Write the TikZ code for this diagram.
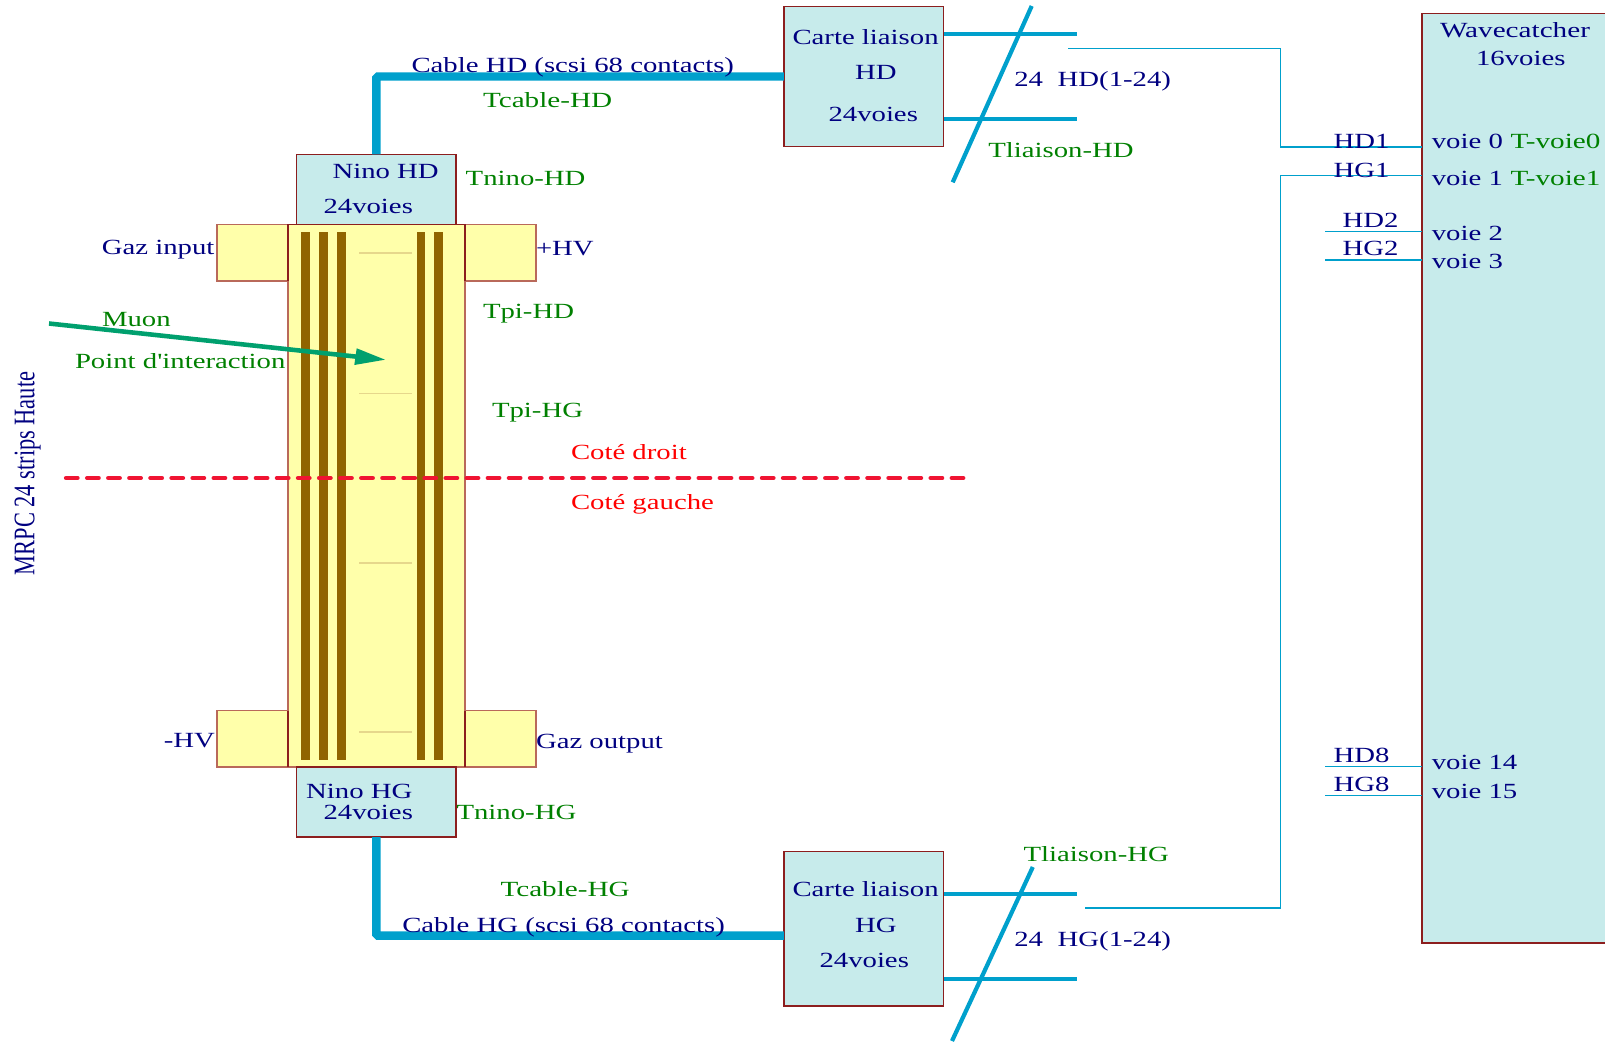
\documentclass[tikz,border=0pt]{standalone}
\usepackage{fontspec}
\setmainfont[FakeStretch=1.33,Ligatures=TeXOff]{Liberation Serif}
\newfontfamily\sidefont[FakeStretch=0.75]{Liberation Serif}
\newfontfamily\widefont[FakeStretch=1.35]{Liberation Serif}
\usepackage{tikz}
\definecolor{navytxt}{RGB}{0,0,128}
\definecolor{greentxt}{RGB}{0,128,0}
\definecolor{cablecol}{RGB}{0,160,204}
\definecolor{boxcol}{RGB}{199,235,235}
\definecolor{gazcol}{RGB}{255,255,170}
\definecolor{barcol}{RGB}{144,100,0}
\definecolor{bordcol}{RGB}{140,30,30}
\definecolor{bordgaz}{RGB}{185,105,90}
\definecolor{muoncol}{RGB}{0,160,110}
\definecolor{tircol}{RGB}{230,215,140}
\definecolor{plancol}{RGB}{240,20,50}
\tikzset{
  every node/.style={inner sep=0pt,outer sep=0pt,font=\fontsize{6.15}{7}\selectfont},
  bluetxt/.style={anchor=base west,text=navytxt},
  greenlbl/.style={anchor=base west,text=greentxt},
  greenwide/.style={anchor=base west,text=greentxt,font=\widefont\fontsize{6.15}{7}\selectfont},
  redlbl/.style={anchor=base west,text=red},
  bloc/.style={draw=bordcol,fill=boxcol,line width=.4pt},
  gaz/.style={draw=bordgaz,fill=gazcol,line width=.4pt},
  bar/.style={fill=barcol,minimum width=.088cm,minimum height=5.283cm},
  cable/.style={draw=cablecol,line width=2.4pt,rounded corners=.5pt},
  branch/.style={draw=cablecol,line width=1.2pt},
  fil/.style={draw=cablecol,line width=.35pt}
}
\begin{document}
\begin{tikzpicture}[x=1cm,y=-1cm]
\useasboundingbox (0,0) rectangle (16.05,10.42);
% MRPC
\node[gaz,minimum width=.71cm,minimum height=.567cm] (gazin) at (2.525,2.527) {};
\node[gaz,minimum width=.71cm,minimum height=.567cm] (hvplus) at (5.005,2.527) {};
\node[gaz,minimum width=.71cm,minimum height=.563cm] (hvmoins) at (2.525,7.389) {};
\node[gaz,minimum width=.71cm,minimum height=.563cm] (gazout) at (5.005,7.389) {};
\node[gaz,minimum width=1.77cm,minimum height=5.427cm] (chambre) at (3.765,4.957) {};
\draw[draw=bordcol,line width=.4pt] (chambre.north west) -- (chambre.north east);
\draw[draw=bordcol,line width=.4pt] (gazin.north east) -- (gazin.south east);
\draw[draw=bordcol,line width=.4pt] (hvplus.north west) -- (hvplus.south west);
\draw[draw=bordcol,line width=.4pt] (hvmoins.north east) -- (hvmoins.south east);
\draw[draw=bordcol,line width=.4pt] (gazout.north west) -- (gazout.south west);
\foreach \xb/\nb in {3.057/a,3.233/b,3.412/c,4.21/d,4.387/e}
  \node[bar] (bar\nb) at (\xb,4.962) {};
\foreach \yt/\nt in {2.53/a,3.937/b,5.63/c,7.32/d}{
  \coordinate (tira\nt) at (3.59,\yt);
  \coordinate (tirb\nt) at (4.123,\yt);
  \draw[draw=tircol,line width=.4pt] (tira\nt)--(tirb\nt);
}
% boites
\node[bloc,minimum width=1.593cm,minimum height=.7cm] (ninohd) at (3.763,1.893) {};
\node[bloc,minimum width=1.593cm,minimum height=.7cm] (ninohg) at (3.763,8.02) {};
\node[bloc,minimum width=1.597cm,minimum height=1.404cm] (cartehd) at (8.638,.765) {};
\node[bloc,minimum width=1.597cm,minimum height=1.544cm] (cartehg) at (8.638,9.288) {};
\node[fill=boxcol,minimum width=1.83cm,minimum height=9.295cm] (wave) at (15.135,4.781) {};
\draw[draw=bordcol,line width=.4pt] (wave.north east) -- (wave.north west) -- (wave.south west) -- (wave.south east);
% cables
\coordinate (entreehg) at (7.84,9.356);
\draw[cable] (ninohd.north) |- (cartehd.west);
\draw[cable] (ninohg.south) |- (entreehg);
\coordinate (hd1) at (9.437,.343);
\coordinate (hd24) at (9.437,1.19);
\coordinate (hd1fin) at (10.767,.343);
\coordinate (hd24fin) at (10.767,1.19);
\coordinate (hg1) at (9.437,8.936);
\coordinate (hg24) at (9.437,9.786);
\coordinate (hg1fin) at (10.767,8.936);
\coordinate (hg24fin) at (10.767,9.786);
\draw[branch] (hd1)--(hd1fin);
\draw[branch] (hd24)--(hd24fin);
\draw[branch] (hg1)--(hg1fin);
\draw[branch] (hg24)--(hg24fin);
\coordinate (slasha) at (10.317,.06);
\coordinate (slashb) at (9.527,1.823);
\coordinate (slashc) at (10.328,8.67);
\coordinate (slashd) at (9.52,10.41);
\draw[branch] (slasha)--(slashb);
\draw[branch] (slashc)--(slashd);
% fils vers le wavecatcher
\coordinate (filhd) at (10.68,.487);
\coordinate (voiea) at (14.22,1.47);
\coordinate (filhg) at (10.85,9.08);
\coordinate (voieb) at (14.22,1.753);
\coordinate (coude) at (12.805,1.47);
\draw[fil] (filhd) -| (coude) -- (voiea);
\coordinate (coudeb) at (12.805,9.08);
\draw[fil] (filhg) -- (coudeb) |- (voieb);
\foreach \ya/\na in {2.317/a,2.6/b,7.667/c,7.953/d}{
  \coordinate (deb\na) at (13.25,\ya);
  \coordinate (fin\na) at (14.22,\ya);
  \draw[fil] (deb\na)--(fin\na);
}
% muon et plan median
\coordinate (muona) at (.49,3.235);
\coordinate (muonb) at (3.85,3.597);
\coordinate (tipa) at (3.567,3.483);
\coordinate (tipb) at (3.543,3.65);
\coordinate (tipc) at (3.56,3.566);
\draw[draw=muoncol,line width=1.3pt] (muona)--(tipc);
\fill[muoncol] (muonb)--(tipa)--(tipb)--cycle;
\coordinate (plana) at (.66,4.78);
\coordinate (planb) at (9.64,4.78);
\draw[draw=plancol,line width=1.2pt,line cap=round,dash pattern=on 3.3pt off 2.7pt] (plana)--(planb);
% textes
\node[bluetxt] (lcablehd) at (4.115,.726) {Cable HD (scsi 68 contacts)};
\node[greenwide] (ltcablehd) at (4.83,1.075) {Tcable-HD};
\node[bluetxt] (lninohd) at (3.325,1.787) {Nino HD};
\node[bluetxt] (lvoiesa) at (3.235,2.137) {24voies};
\node[greenlbl] (ltninohd) at (4.657,1.85) {Tnino-HD};
\node[bluetxt] (lgazin) at (1.018,2.545) {Gaz input};
\node[bluetxt] (lhvplus) at (5.36,2.55) {+HV};
\node[greenlbl] (ltpihd) at (4.83,3.183) {Tpi-HD};
\node[greenlbl] (ltpihg) at (4.92,4.172) {Tpi-HG};
\node[greenlbl] (lmuon) at (1.02,3.265) {Muon};
\node[greenlbl] (lpoint) at (.75,3.685) {Point d'interaction};
\node[redlbl] (ldroit) at (5.71,4.592) {Coté droit};
\node[redlbl] (lgauche) at (5.71,5.092) {Coté gauche};
\node[bluetxt] (lhvmoins) at (1.638,7.47) {-HV};
\node[bluetxt] (lgazout) at (5.36,7.48) {Gaz output};
\node[bluetxt] (lninohg) at (3.062,7.987) {Nino HG};
\node[bluetxt] (lvoiesb) at (3.235,8.19) {24voies};
\node[greenlbl] (ltninohg) at (4.565,8.19) {Tnino-HG};
\node[greenwide] (ltcablehg) at (5.005,8.96) {Tcable-HG};
\node[bluetxt] (lcablehg) at (4.023,9.322) {Cable HG (scsi 68 contacts)};
\node[bluetxt] (lcartehd) at (7.925,.44) {Carte liaison};
\node[bluetxt] (lhd) at (8.55,.792) {HD};
\node[bluetxt] (lvoiesc) at (8.285,1.212) {24voies};
\node[bluetxt] (lnbhd) at (10.143,.862) {24};
\node[bluetxt] (lnomhd) at (10.577,.862) {HD(1-24)};
\node[greenlbl] (ltliaisonhd) at (9.883,1.577) {Tliaison-HD};
\node[greenlbl] (ltliaisonhg) at (10.236,8.61) {Tliaison-HG};
\node[bluetxt] (lcartehg) at (7.925,8.967) {Carte liaison};
\node[bluetxt] (lhg) at (8.55,9.325) {HG};
\node[bluetxt] (lvoiesd) at (8.195,9.67) {24voies};
\node[bluetxt] (lnbhg) at (10.143,9.46) {24};
\node[bluetxt] (lnomhg) at (10.577,9.46) {HG(1-24)};
\node[bluetxt,font=\widefont\fontsize{6.15}{7}\selectfont] (lwave) at (14.4,.372) {Wavecatcher};
\node[bluetxt] (lseize) at (14.76,.652) {16voies};
\node[bluetxt] (lvoie0) at (14.318,1.483) {voie 0};
\node[greenwide] (ltvoie0) at (15.107,1.483) {T-voie0};
\node[bluetxt] (lvoie1) at (14.318,1.85) {voie 1};
\node[greenwide] (ltvoie1) at (15.107,1.85) {T-voie1};
\node[bluetxt] (lvoie2) at (14.318,2.405) {voie 2};
\node[bluetxt] (lvoie3) at (14.318,2.688) {voie 3};
\node[bluetxt] (lvoie14) at (14.318,7.69) {voie 14};
\node[bluetxt] (lvoie15) at (14.318,7.98) {voie 15};
\node[bluetxt] (lhd1) at (13.335,1.483) {HD1};
\node[bluetxt] (lhg1) at (13.335,1.772) {HG1};
\node[bluetxt] (lhd2) at (13.425,2.273) {HD2};
\node[bluetxt] (lhg2) at (13.425,2.553) {HG2};
\node[bluetxt] (lhd8) at (13.335,7.626) {HD8};
\node[bluetxt] (lhg8) at (13.335,7.91) {HG8};
\node[anchor=base,text=navytxt,rotate=90,font=\sidefont\fontsize{8.5}{9}\selectfont] (lmrpc) at (.343,4.735) {MRPC 24 strips Haute};
\end{tikzpicture}
\end{document}
